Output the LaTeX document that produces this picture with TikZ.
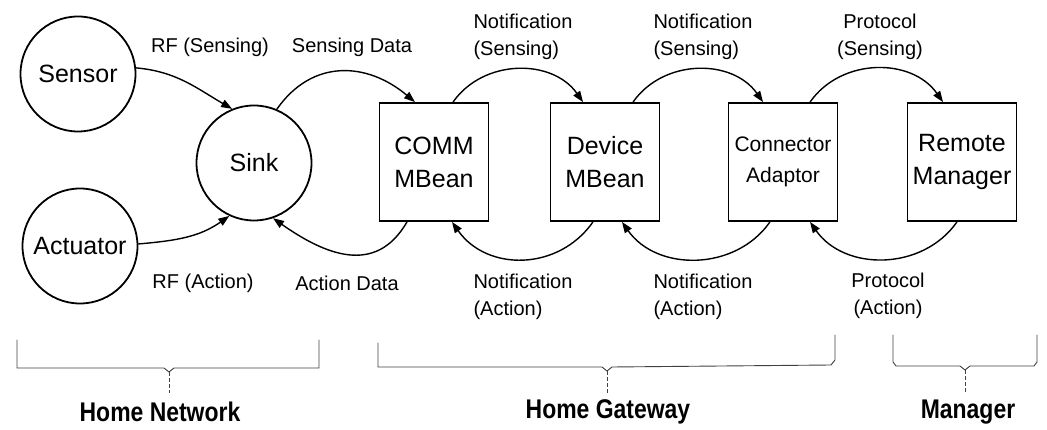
\documentclass[tikz,border=0pt]{standalone}
\usepackage{fontspec}
\usepackage{graphicx}
\setmainfont{Liberation Sans}
\usetikzlibrary{arrows.meta}

\begin{document}
\begin{tikzpicture}[x=1pt,y=1pt,
  ent/.style={circle,draw,line width=1.8pt,minimum size=115pt,inner sep=0pt,
              font=\fontsize{25}{30}\selectfont},
  mod/.style={rectangle,draw,line width=1.8pt,minimum width=109pt,minimum height=118pt,
              inner sep=0pt,align=center,font=\fontsize{25}{33}\selectfont},
  flow/.style={line width=1.4pt,-{Triangle[length=11pt,width=8pt]}},
  lbl/.style={font=\fontsize{20}{27}\selectfont},
  grp/.style={line width=0.9pt,black!75,line cap=round},
  grptick/.style={line width=0.9pt,black!75,dash pattern=on 4pt off 2pt},
  grplbl/.style={font=\bfseries\fontsize{27}{30}\selectfont}]

\useasboundingbox (0,0) rectangle (1047,-430);

% devices of the home network
\node[ent] (sensor)   at (78,-74)  {Sensor};
\node[ent] (actuator) at (80,-246) {Actuator};
\node[ent] (sink)     at (254,-163) {Sink};

% gateway modules and the manager
\node[mod] (comm) at (434,-162) {COMM\\MBean};
\node[mod] (dev)  at (605,-162) {Device\\MBean};
\node[mod,font=\fontsize{21}{31}\selectfont] (conn) at (783,-162) {Connector\\Adaptor};
\node[mod] (rem)  at (962,-162) {Remote\\Manager};

% sensing path (upper arcs)
\draw[flow] (sensor.6) to[out=-5,in=150] (sink.112);
\draw[flow] (sink.67) to[out=55,in=140,looseness=1.15] ([xshift=-19pt]comm.north);
\draw[flow] ([xshift=19pt]comm.north) to[out=55,in=125,looseness=1.05] ([xshift=-22pt]dev.north);
\draw[flow] ([xshift=28pt]dev.north) to[out=55,in=125,looseness=1.05] ([xshift=-20pt]conn.north);
\draw[flow] ([xshift=27pt]conn.north) to[out=55,in=125,looseness=1.05] ([xshift=-19pt]rem.north);

% action path (lower arcs)
\draw[flow] (actuator.2) to[out=5,in=215] (sink.245);
\draw[flow] ([xshift=-27pt]comm.south) to[out=-120,in=-35,looseness=1.2] (sink.-71);
\draw[flow] ([xshift=-12pt]dev.south) to[out=-125,in=-55,looseness=1.1] ([xshift=18pt]comm.south);
\draw[flow] ([xshift=-13pt]conn.south) to[out=-125,in=-55,looseness=1.05] ([xshift=17pt]dev.south);
\draw[flow] ([xshift=-5pt]rem.south) to[out=-125,in=-55,looseness=1.05] ([xshift=27pt]conn.south);

% arc labels
\node[lbl] (rfs) at (210,-47) {RF (Sensing)};
\node[lbl] (sd)  at (352,-47) {Sensing Data};
\node[lbl] (rfa) at (203,-283) {RF (Action)};
\node[lbl] (ad)  at (347,-283) {Action Data};
\node[lbl,align=left] (ns1) at (523,-37) {Notification\\(Sensing)};
\node[lbl,align=left] (ns2) at (703,-37) {Notification\\(Sensing)};
\node[lbl,align=center] (ps) at (880,-37) {Protocol\\(Sensing)};
\node[lbl,align=left] (na1) at (523,-297) {Notification\\(Action)};
\node[lbl,align=left] (na2) at (703,-297) {Notification\\(Action)};
\node[lbl,align=center] (pa) at (888,-296) {Protocol\\(Action)};

% group braces
\draw[grp] (17,-340) -- (17,-368) -- (164,-368) -- (169,-372) -- (174,-368) -- (319,-368) -- (319,-340);
\draw[grptick] (169,-372) -- (169,-393);
\draw[grp] (378,-343) -- (378,-367) -- (602,-367) -- (607,-371) -- (612,-367) -- (831,-365) -- (835,-360) -- (835,-335);
\draw[grptick] (607,-371) -- (607,-393);
\draw[grp] (893,-335) -- (893,-362) -- (896,-366) -- (960,-366) -- (965,-370) -- (970,-366) -- (1034,-366) -- (1037,-362) -- (1037,-335);
\draw[grptick] (965,-370) -- (965,-393);

% group names
\node[grplbl] (hn) at (160,-412) {\scalebox{0.85}[1]{Home Network}};
\node[grplbl] (hg) at (608,-412) {\scalebox{0.85}[1]{Home Gateway}};
\node[grplbl] (mg) at (968,-412) {\scalebox{0.85}[1]{Manager}};
\end{tikzpicture}
\end{document}
